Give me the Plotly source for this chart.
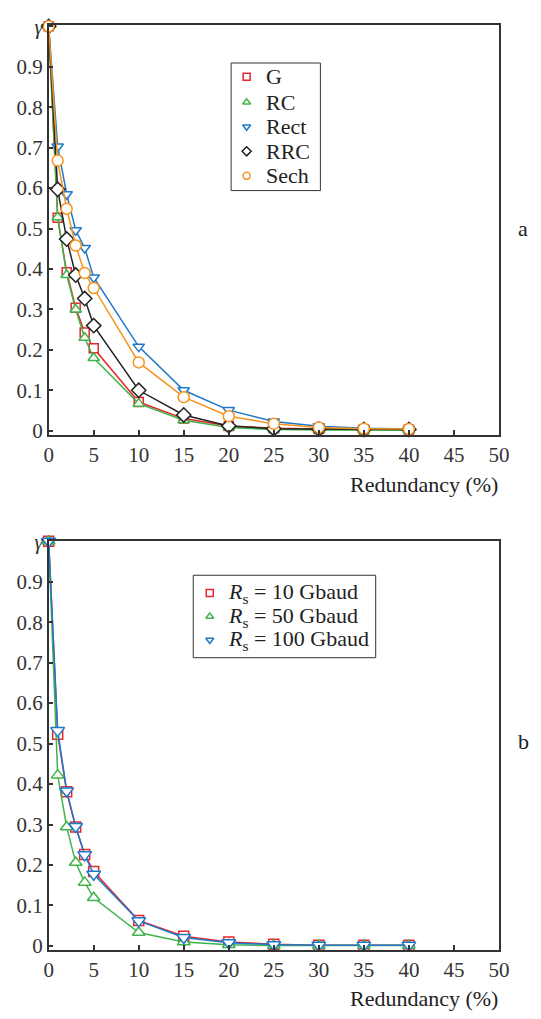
import plotly.graph_objects as go

x_red = [0, 1, 2, 3, 4, 5, 10, 15, 20, 25, 30, 35, 40]

# Panel a
g_vals = [1.0, 0.527, 0.392, 0.304, 0.243, 0.204, 0.071, 0.030, 0.012, 0.006, 0.004, 0.003, 0.003]
rc_vals = [1.0, 0.528, 0.385, 0.300, 0.230, 0.180, 0.067, 0.026, 0.008, 0.003, 0.002, 0.001, 0.001]
rect_vals = [1.0, 0.703, 0.585, 0.496, 0.452, 0.379, 0.208, 0.100, 0.051, 0.023, 0.011, 0.006, 0.004]
rrc_vals = [1.0, 0.597, 0.474, 0.385, 0.327, 0.260, 0.100, 0.039, 0.012, 0.005, 0.004, 0.003, 0.003]
sech_vals = [1.0, 0.668, 0.549, 0.458, 0.390, 0.353, 0.169, 0.083, 0.036, 0.017, 0.008, 0.005, 0.004]
names_a = ["G", "RC", "Rect", "RRC", "Sech"]

# Panel b
rs10_vals = [1.0, 0.523, 0.381, 0.294, 0.226, 0.184, 0.063, 0.024, 0.010, 0.004, 0.002, 0.002, 0.002]
rs50_vals = [1.0, 0.422, 0.294, 0.206, 0.157, 0.119, 0.033, 0.010, 0.003, 0.001, 0.001, 0.001, 0.001]
rs100_vals = [1.0, 0.532, 0.383, 0.295, 0.225, 0.177, 0.062, 0.021, 0.008, 0.003, 0.002, 0.002, 0.002]
names_b = ["<i>R</i><sub>s</sub> = 10 Gbaud", "<i>R</i><sub>s</sub> = 50 Gbaud", "<i>R</i><sub>s</sub> = 100 Gbaud"]

x_ticks = [0, 5, 10, 15, 20, 25, 30, 35, 40, 45, 50]
y_ticks = [0, 0.1, 0.2, 0.3, 0.4, 0.5, 0.6, 0.7, 0.8, 0.9, 1.0]
y_ticktext = ["0", "0.1", "0.2", "0.3", "0.4", "0.5", "0.6", "0.7", "0.8", "0.9", "<i>γ</i>"]

RED = "#e8262d"
GREEN = "#3fb44a"
BLUE = "#1f78c8"
BLACK = "#222222"
ORANGE = "#f7931e"
FONT = "Liberation Serif, DejaVu Serif, Times New Roman, serif"
AX = "#333333"
FS = 21
W, H = 541, 1019

fig = go.Figure()

series_a = [
    (g_vals, RED, "square", 9),
    (rc_vals, GREEN, "triangle-up", 10),
    (rect_vals, BLUE, "triangle-down", 10),
    (rrc_vals, BLACK, "diamond", 11),
    (sech_vals, ORANGE, "circle", 11),
]
series_b = [
    (rs10_vals, RED, "square", 10),
    (rs50_vals, GREEN, "triangle-up", 11),
    (rs100_vals, BLUE, "triangle-down", 12),
]

for (vals, col, sym, sz), nm in zip(series_a, names_a):
    fig.add_trace(go.Scatter(
        x=x_red, y=vals, mode="lines+markers", xaxis="x", yaxis="y", name=nm,
        line=dict(color=col, width=1.5),
        marker=dict(symbol=sym, size=sz, color="white", line=dict(color=col, width=1.5)),
        showlegend=False, cliponaxis=False))
for (vals, col, sym, sz), nm in zip(series_b, names_b):
    fig.add_trace(go.Scatter(
        x=x_red, y=vals, mode="lines+markers", xaxis="x2", yaxis="y2", name=nm,
        line=dict(color=col, width=1.5),
        marker=dict(symbol=sym, size=sz, color="white", line=dict(color=col, width=1.5)),
        showlegend=False, cliponaxis=False))

# Manual legends (pixel-space overlay axis)
leg_a = dict(box=(233, 53, 325, 183), sym_x=249, txt_x=267, rows=[67, 93, 118, 143, 168])
leg_b = dict(box=(194, 575, 382, 659), sym_x=211, txt_x=228, rows=[593, 617, 641])

shapes = []
annotations = []
LFONT = dict(family=FONT, size=22, color="#222")
for leg, series, names in [(leg_a, series_a, names_a), (leg_b, series_b, names_b)]:
    x0, y0, x1, y1 = leg["box"]
    shapes.append(dict(type="rect", xref="x3", yref="y3", x0=x0, y0=y0, x1=x1, y1=y1,
                       line=dict(color=AX, width=1), fillcolor="white", layer="below"))
    fig.add_trace(go.Scatter(
        x=[leg["sym_x"]] * len(series), y=leg["rows"], mode="markers",
        xaxis="x3", yaxis="y3", showlegend=False, hoverinfo="skip",
        marker=dict(symbol=[s[2] for s in series], size=7, color="white",
                    line=dict(color=[s[1] for s in series], width=1.5))))
    for ry, nm in zip(leg["rows"], names):
        annotations.append(dict(text=nm, x=leg["txt_x"], y=ry, xref="x3", yref="y3",
                                xanchor="left", yanchor="middle", showarrow=False,
                                font=LFONT))

xd = [45 / W, 509 / W]
yd_a = [1 - 432 / H, 1 - 14 / H]
yd_b = [1 - 956.7 / H, 1 - 540 / H]

xax = dict(range=[0, 50], tickvals=x_ticks, ticks="inside", ticklen=5, tickwidth=1.5,
           tickcolor=AX, showline=True, linecolor=AX, linewidth=1.5, mirror=True,
           showgrid=False, zeroline=False, tickfont=dict(family=FONT, size=FS, color=AX),
           domain=xd)
yax = dict(tickvals=y_ticks, ticktext=y_ticktext, ticks="inside", ticklen=5, tickwidth=1.5,
           tickcolor=AX, showline=True, linecolor=AX, linewidth=1.5, mirror=True,
           showgrid=False, zeroline=False, tickfont=dict(family=FONT, size=FS, color=AX))

ann_font = dict(family=FONT, size=22, color="#222")
annotations += [
    dict(text="Redundancy (%)", x=510 / W, y=1 - 482 / H, xref="paper", yref="paper",
         xanchor="right", yanchor="middle", showarrow=False, font=ann_font),
    dict(text="Redundancy (%)", x=510 / W, y=1 - 1006 / H, xref="paper", yref="paper",
         xanchor="right", yanchor="middle", showarrow=False, font=ann_font),
    dict(text="a", x=534 / W, y=1 - 222 / H, xref="paper", yref="paper",
         xanchor="center", yanchor="middle", showarrow=False, font=ann_font),
    dict(text="b", x=534 / W, y=1 - 744 / H, xref="paper", yref="paper",
         xanchor="center", yanchor="middle", showarrow=False, font=ann_font),
]

fig.update_layout(
    width=W, height=H, margin=dict(l=0, r=0, t=0, b=0),
    paper_bgcolor="white", plot_bgcolor="rgba(0,0,0,0)",
    font=dict(family=FONT, color=AX, size=FS),
    showlegend=False,
    xaxis=dict(xax, anchor="y"),
    yaxis=dict(yax, range=[-0.0104, 1.004], domain=yd_a, anchor="x"),
    xaxis2=dict(xax, anchor="y2"),
    yaxis2=dict(yax, range=[-0.0097, 1.0007], domain=yd_b, anchor="x2"),
    xaxis3=dict(domain=[0, 1], range=[0, W], visible=False, anchor="y3", fixedrange=True),
    yaxis3=dict(domain=[0, 1], range=[H, 0], visible=False, anchor="x3", fixedrange=True),
    shapes=shapes,
    annotations=annotations,
)

fig.write_html("out.html")
